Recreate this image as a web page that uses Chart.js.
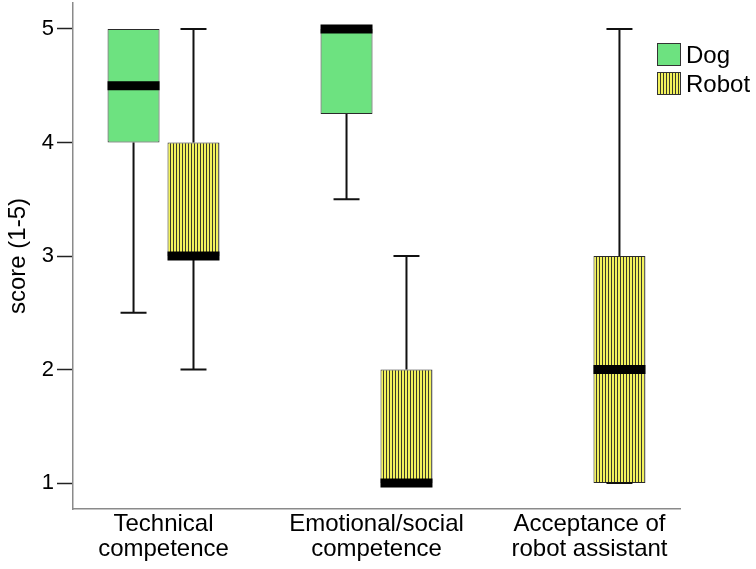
<!DOCTYPE html>
<html>
<head>
<meta charset="utf-8">
<script src="https://cdn.jsdelivr.net/npm/chart.js@4.4.1/dist/chart.umd.min.js"></script>
<style>
  html, body { margin: 0; padding: 0; background: #fff; overflow: hidden; }
  #wrap { position: relative; width: 756px; height: 569px; }
  #box-chart { position: absolute; left: 0; top: 0; }
  #legend { position: absolute; left: 657px; top: 40px; font-family: 'Liberation Sans', Arial, sans-serif; font-size: 24px; color: #000; }
  .item { display: flex; align-items: center; height: 29px; }
  .sw { width: 22px; height: 21px; border: 1px solid #333; margin-right: 5px; box-sizing: content-box; }
  .sw.dog { background: #6de280; }
  .sw.robot { background: repeating-linear-gradient(to right, #f2f25c 0 2px, #3a3a2a 2px 3px); }
</style>
</head>
<body>
<div id="wrap">
  <canvas id="box-chart" width="756" height="569"></canvas>
  <div id="legend">
    <div class="item"><div class="sw dog"></div>Dog</div>
    <div class="item"><div class="sw robot"></div>Robot</div>
  </div>
</div>
<script>
// --- データ ---
const categories = [
    ['Technical', 'competence'],
    ['Emotional/social', 'competence'],
    ['Acceptance of', 'robot assistant']
];
const yTicks = [1, 2, 3, 4, 5];

// Dog
const dogMin    = [2.5, 3.5,  null];
const dogQ1     = [4,   4.25, null];
const dogMedian = [4.5, 5,    null];
const dogQ3     = [5,   5,    null];
const dogMax    = [5,   5,    null];

// Robot
const robotMin    = [2, 1, 1];
const robotQ1     = [3, 1, 1];
const robotMedian = [3, 1, 2];
const robotQ3     = [4, 2, 3];
const robotMax    = [5, 3, 5];

// --- 縦縞パターン (Robot) ---
function stripePattern() {
    const c = document.createElement('canvas');
    c.width = 3; c.height = 8;
    const g = c.getContext('2d');
    g.fillStyle = '#f2f25c';
    g.fillRect(0, 0, 3, 8);
    g.fillStyle = '#3a3a2a';
    g.fillRect(2, 0, 1, 8);
    return g.createPattern(c, 'repeat');
}

function boxData(q1, q3) {
    return q1.map((v, i) => ({ x: i, y: v === null ? null : [v, q3[i]] }));
}

// ひげ・中央値を描くプラグイン
const whiskerPlugin = {
    id: 'whiskers',
    afterDatasetsDraw(chart) {
        const ctx = chart.ctx;
        const ys = chart.scales.y;
        chart.data.datasets.forEach((ds, d) => {
            const meta = chart.getDatasetMeta(d);
            meta.data.forEach((el, i) => {
                if (ds.stats.median[i] === null) return;
                const x = el.x, w = el.width;
                const pMin = ys.getPixelForValue(ds.stats.min[i]);
                const pMax = ys.getPixelForValue(ds.stats.max[i]);
                const pQ1  = ys.getPixelForValue(ds.stats.q1[i]);
                const pQ3  = ys.getPixelForValue(ds.stats.q3[i]);
                const pMed = ys.getPixelForValue(ds.stats.median[i]);
                ctx.save();
                ctx.strokeStyle = '#111';
                ctx.lineWidth = 2;
                ctx.beginPath();
                if (pMax < pQ3) {
                    ctx.moveTo(x, pQ3); ctx.lineTo(x, pMax);
                    ctx.moveTo(x - w / 4, pMax); ctx.lineTo(x + w / 4, pMax);
                }
                if (pMin > pQ1) { ctx.moveTo(x, pQ1); ctx.lineTo(x, pMin); }
                ctx.moveTo(x - w / 4, pMin); ctx.lineTo(x + w / 4, pMin);
                ctx.stroke();
                // 中央値（太線）
                ctx.fillStyle = '#000';
                ctx.fillRect(x - w / 2, pMed - 4.5, w, 9);
                ctx.restore();
            });
        });
    }
};

Chart.defaults.font.family = "'Liberation Sans', Arial, sans-serif";
Chart.defaults.color = '#000';

new Chart(document.getElementById('box-chart'), {
    type: 'bar',
    data: {
        datasets: [
            {
                label: 'Dog',
                data: boxData(dogQ1, dogQ3),
                backgroundColor: '#6de280',
                borderColor: '#2a2a2a',
                borderWidth: 1,
                borderSkipped: false,
                stats: { min: dogMin, q1: dogQ1, median: dogMedian, q3: dogQ3, max: dogMax }
            },
            {
                label: 'Robot',
                data: boxData(robotQ1, robotQ3),
                backgroundColor: stripePattern(),
                borderColor: '#2a2a2a',
                borderWidth: 1,
                borderSkipped: false,
                stats: { min: robotMin, q1: robotQ1, median: robotMedian, q3: robotQ3, max: robotMax }
            }
        ]
    },
    options: {
        responsive: false,
        animation: false,
        categoryPercentage: 0.563,
        barPercentage: 0.867,
        layout: { padding: { left: 0, right: 76, top: 3, bottom: 0 } },
        plugins: {
            legend: { display: false },
            tooltip: { enabled: false }
        },
        scales: {
            x: {
                type: 'linear',
                offset: false,
                min: -0.425,
                max: 2.425,
                afterBuildTicks: s => { s.ticks = categories.map((_, i) => ({ value: i })); },
                afterFit: s => { s.height = 60; s.paddingLeft = 0; s.paddingRight = 0; },
                ticks: {
                    autoSkip: false,
                    maxRotation: 0,
                    padding: 3,
                    font: { size: 24, lineHeight: 1.05 },
                    color: '#000',
                    callback: v => categories[v]
                },
                grid: { display: false, drawTicks: false },
                border: { display: true, color: '#8a8a8a', width: 1.5 }
            },
            y: {
                min: 0.771,
                max: 5.229,
                afterBuildTicks: s => { s.ticks = yTicks.map(v => ({ value: v })); },
                afterFit: s => { s.width = 73; s.paddingTop = 0; s.paddingBottom = 0; },
                title: {
                    display: true,
                    text: 'score (1-5)',
                    font: { size: 24 },
                    color: '#000',
                    padding: { top: 4, bottom: 0 }
                },
                ticks: {
                    padding: 3,
                    font: { size: 22 },
                    color: '#000'
                },
                grid: {
                    drawOnChartArea: false,
                    drawTicks: true,
                    tickLength: 16,
                    tickColor: '#222',
                    tickWidth: 1.5
                },
                border: { display: true, color: '#8a8a8a', width: 1.5 }
            }
        }
    },
    plugins: [whiskerPlugin]
});
</script>
</body>
</html>
